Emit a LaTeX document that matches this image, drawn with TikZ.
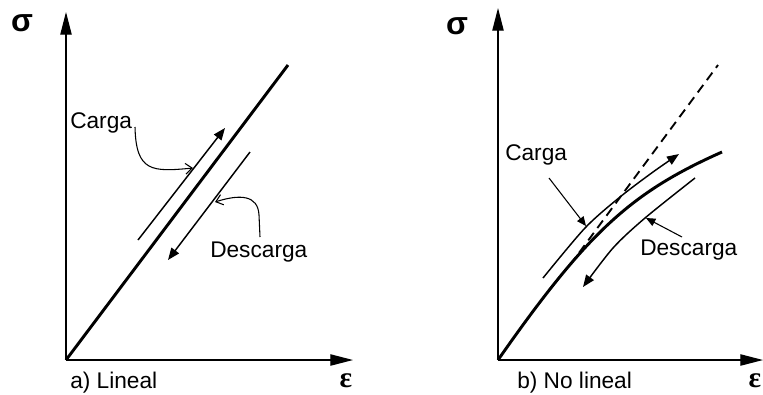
\documentclass[tikz,border=0pt]{standalone}
\usepackage{fontspec}
\setmainfont{Liberation Sans}
\newfontfamily\serifgr{Liberation Serif}
\usetikzlibrary{arrows.meta}

\begin{document}
\begin{tikzpicture}[x=0.75pt, y=-0.75pt,
    eje/.style={line width=0.9pt, -{Triangle[length=17pt,width=8.5pt]}},
    curva/.style={line width=2.2pt},
    flecha/.style={line width=1.1pt, -{Triangle[length=9pt,width=7pt]}},
    llamada/.style={line width=0.8pt, -{Straight Barb[length=5pt,width=8pt]}},
    llamadab/.style={line width=0.8pt, -{Triangle[length=7pt,width=6pt]}},
    etiq/.style={font=\fontsize{17}{19}\selectfont, inner sep=0pt, anchor=base west},
    griega/.style={font=\fontsize{24}{26}\selectfont\bfseries, inner sep=0pt},
    griegae/.style={font=\fontsize{22}{24}\selectfont\serifgr\bfseries, inner sep=0pt}]
\useasboundingbox (0,0) rectangle (763,394);

% a) Lineal: ejes
\coordinate (oa) at (66,360);
\coordinate (ya) at (66,12);
\coordinate (xa) at (353,360);
\draw[eje] (oa) -- (ya);
\draw[eje] (oa) -- (xa);
\node[griega] (siga) at (22,23) {σ};
\node[griegae] (epsa) at (346,381) {ε};
\node[etiq] (tita) at (70,388) {a) Lineal};
% recta
\coordinate (fa) at (288,65);
\draw[curva] (oa) -- (fa);
% carga y descarga
\coordinate (ca1) at (138,240);
\coordinate (ca2) at (225,128);
\coordinate (da1) at (250,152);
\coordinate (da2) at (168,260);
\draw[flecha] (ca1) -- (ca2);
\draw[flecha] (da1) -- (da2);
\node[etiq] (carga) at (70,128) {Carga};
\node[etiq] (descarga) at (210,257) {Descarga};
\coordinate (lca) at (135,127);
\coordinate (pca) at (193,168);
\coordinate (lda) at (260,237);
\coordinate (pda) at (215,202);
\draw[llamada] (lca) .. controls (136,172) and (152,172) .. (pca);
\draw[llamada] (lda) -- (259,215) .. controls (258,195) and (240,194) .. (pda);

% b) No lineal: ejes
\coordinate (ob) at (498,360);
\coordinate (yb) at (498,8);
\coordinate (xb) at (763,360);
\draw[eje] (ob) -- (yb);
\draw[eje] (ob) -- (xb);
\node[griega] (sigb) at (457,26) {σ};
\node[griegae] (epsb) at (755,381) {ε};
\node[etiq] (titb) at (517,388) {b) No lineal};
% curva y tangente
\coordinate (fb) at (722,152);
\draw[curva] (ob) .. controls (588,231) and (632,192) .. (fb);
\coordinate (tb1) at (570,265);
\coordinate (tb2) at (718,65);
\draw[line width=1.4pt, dash pattern=on 7pt off 4.5pt] (tb1) -- (tb2);
% carga y descarga
\coordinate (cb1) at (543,278);
\coordinate (cb2) at (679,154);
\coordinate (db1) at (695,178);
\coordinate (db2) at (583,287);
\draw[flecha] plot[smooth] coordinates {(cb1) (585,228) (620,197) (653,172) (cb2)};
\draw[flecha] plot[smooth] coordinates {(db1) (645,218) (613,248) (db2)};
\node[etiq] (cargab) at (505,160) {Carga};
\node[etiq] (descargab) at (640,255) {Descarga};
\coordinate (lcb) at (549,178);
\coordinate (pcb) at (586,226);
\coordinate (ldb) at (682,237);
\coordinate (pdb) at (646,218);
\draw[llamadab] (lcb) -- (pcb);
\draw[llamadab] (ldb) -- (pdb);
\end{tikzpicture}
\end{document}
